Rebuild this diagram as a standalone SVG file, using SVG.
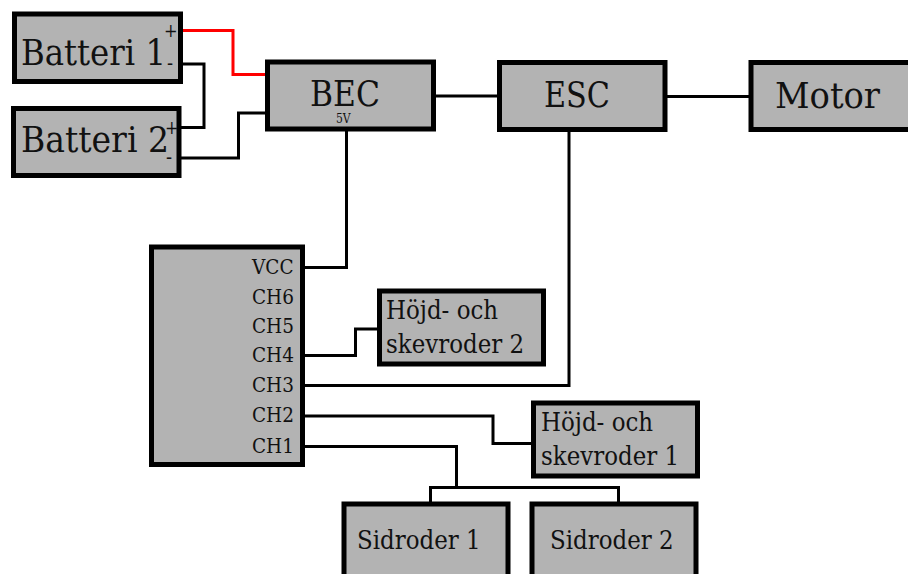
<svg xmlns="http://www.w3.org/2000/svg" width="908" height="574" viewBox="0 0 908 574">
<style>
.b{fill:#b3b3b3;stroke:#000;stroke-width:5}
.w{fill:none;stroke:#000;stroke-width:3}
text{font-family:"DejaVu Serif Condensed","DejaVu Serif",serif;fill:#111}
.l{font-size:35px}
.m{font-size:25.500px}
.s{font-size:20.500px}
.p{font-size:18px}
</style>
<rect width="908" height="574" fill="#fff"/>
<g id="connectors">
<path d="M182 30.500H233V74.500H265" fill="none" stroke="#f00" stroke-width="3"/>
<path class="w" d="M182 64H204V127.500H180"/>
<path class="w" d="M180 158H238.500V113H265"/>
<path class="w" d="M434 96H498"/>
<path class="w" d="M666 96.500H750"/>
<path class="w" d="M346.500 130V267.500H303"/>
<path class="w" d="M569 130V385.500H303"/>
<path class="w" d="M303 355.500H355.500V329H378"/>
<path class="w" d="M303 416H493V443.500H532"/>
<path class="w" d="M303 446.500H456.500V487"/>
<path class="w" d="M430.500 503V487.500H618.500V503"/>
</g>
<g id="batteri1"><rect class="b" x="14.500" y="14" width="166" height="67.500"/><text class="l" x="21" y="65" textLength="145" lengthAdjust="spacingAndGlyphs">Batteri 1</text><text class="p" x="164" y="37">+</text><text x="167" y="70" font-size="20">-</text></g>
<g id="batteri2"><rect class="b" x="13.500" y="108.500" width="165.500" height="67"/><text class="l" x="21" y="152" textLength="148" lengthAdjust="spacingAndGlyphs">Batteri 2</text><text class="p" x="165" y="134">+</text><text x="166" y="164" font-size="20">-</text></g>
<g id="bec"><rect class="b" x="267.500" y="62" width="166" height="67"/><text class="l" x="310" y="106" textLength="70" lengthAdjust="spacingAndGlyphs">BEC</text><text x="336" y="123" font-size="12">5V</text></g>
<g id="esc"><rect class="b" x="499.500" y="62.500" width="165.500" height="67"/><text class="l" x="544" y="107" textLength="66" lengthAdjust="spacingAndGlyphs">ESC</text></g>
<g id="motor"><rect class="b" x="751" y="62.500" width="166" height="67"/><text class="l" x="775" y="108" textLength="105" lengthAdjust="spacingAndGlyphs">Motor</text></g>
<g id="mottagare"><rect class="b" x="151.500" y="247" width="151" height="217.500"/>
<text class="s" x="252" y="274">VCC</text><text class="s" x="252" y="304">CH6</text><text class="s" x="252" y="333">CH5</text><text class="s" x="252" y="362">CH4</text><text class="s" x="252" y="392">CH3</text><text class="s" x="252" y="422">CH2</text><text class="s" x="252" y="453">CH1</text></g>
<g id="hojd2"><rect class="b" x="379.500" y="291" width="164" height="73"/><text class="m" x="386" y="319">Höjd- och</text><text class="m" x="386" y="353">skevroder 2</text></g>
<g id="hojd1"><rect class="b" x="533.500" y="403" width="164" height="73"/><text class="m" x="541" y="431">Höjd- och</text><text class="m" x="541" y="465">skevroder 1</text></g>
<g id="sidroder1"><rect class="b" x="344" y="504" width="164" height="73"/><text class="m" x="357" y="549">Sidroder 1</text></g>
<g id="sidroder2"><rect class="b" x="532" y="504" width="164" height="73"/><text class="m" x="550" y="549">Sidroder 2</text></g>
</svg>
